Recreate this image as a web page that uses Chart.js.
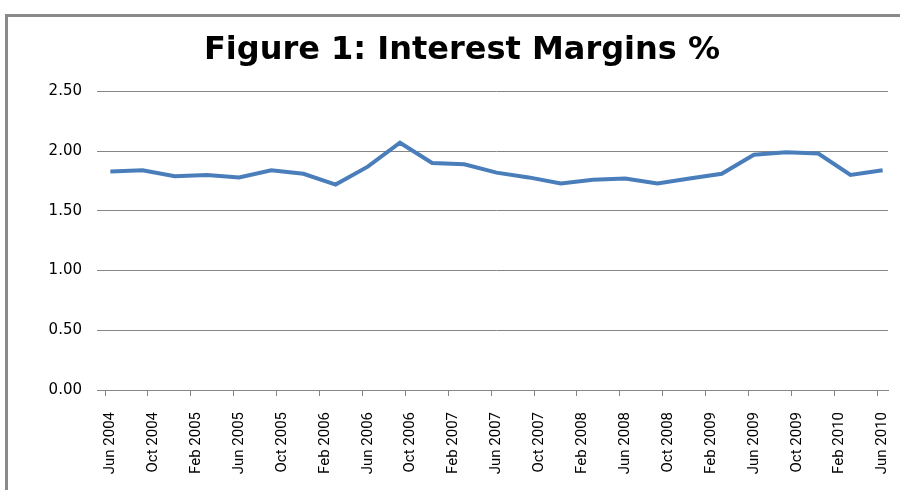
<!DOCTYPE html>
<html>
<head>
<meta charset="utf-8">
<script src="https://cdn.jsdelivr.net/npm/chart.js@4"></script>
<style>
    html, body { margin: 0; padding: 0; background: #fff; }
    #wrap { position: relative; width: 900px; height: 490px; }
    #frame {
        position: absolute; left: 5px; top: 14px; right: -5px; bottom: -5px;
        border-left: 3px solid #8a8a8a; border-top: 3px solid #8a8a8a;
    }
    canvas { position: absolute; left: 0; top: 0; }
</style>
</head>
<body>
<div id="wrap">
    <div id="frame"></div>
    <canvas id="marginChart" width="900" height="490"></canvas>
</div>
<script>
// quarterly observations, plotted on a monthly category axis
const quarters = [
    "Jun 2004", "Sep 2004", "Dec 2004", "Mar 2005", "Jun 2005", "Sep 2005", "Dec 2005",
    "Mar 2006", "Jun 2006", "Sep 2006", "Dec 2006", "Mar 2007", "Jun 2007", "Sep 2007",
    "Dec 2007", "Mar 2008", "Jun 2008", "Sep 2008", "Dec 2008", "Mar 2009", "Jun 2009",
    "Sep 2009", "Dec 2009", "Mar 2010", "Jun 2010",
];
const margins = [
    1.83, 1.84, 1.79, 1.80, 1.78, 1.84, 1.81,
    1.72, 1.87, 2.07, 1.90, 1.89, 1.82, 1.78,
    1.73, 1.76, 1.77, 1.73, 1.77, 1.81, 1.97,
    1.99, 1.98, 1.80, 1.84,
];
const yTicks = [0, 0.5, 1, 1.5, 2, 2.5];

const monthNames = ["Jan", "Feb", "Mar", "Apr", "May", "Jun", "Jul", "Aug", "Sep", "Oct", "Nov", "Dec"];
const months = [];
for (let y = 2004; y <= 2010; y++) {
    for (let m = 0; m < 12; m++) {
        if (y === 2004 && m < 5) continue;
        if (y === 2010 && m > 5) continue;
        months.push(monthNames[m] + " " + y);
    }
}

const grey = "#868686";

new Chart(document.getElementById("marginChart"), {
    type: "line",
    data: {
        labels: months,
        datasets: [
            {
                data: quarters.map((q, i) => ({ x: q, y: margins[i] })),
                borderColor: "#4a7ebb",
                borderWidth: 4,
                pointRadius: 0,
                tension: 0,
                fill: false,
            },
        ],
    },
    options: {
        responsive: false,
        animation: false,
        layout: { padding: { left: 36, right: 12, top: 0, bottom: 0 } },
        plugins: {
            legend: { display: false },
            tooltip: { enabled: false },
            title: {
                display: true,
                text: "Figure 1: Interest Margins %",
                color: "#000",
                font: { family: "DejaVu Sans", size: 32, weight: "bold" },
                padding: { top: 31, bottom: 22 },
            },
        },
        scales: {
            x: {
                type: "category",
                offset: true,
                grid: {
                    offset: true,
                    drawOnChartArea: false,
                    tickLength: 6,
                    tickColor: (ctx) => (ctx.index % 4 === 0 ? grey : "rgba(0,0,0,0)"),
                },
                border: { display: true, color: grey },
                ticks: {
                    autoSkip: false,
                    minRotation: 90,
                    maxRotation: 90,
                    padding: 16,
                    color: "#000",
                    font: { family: "Roboto", size: 15 },
                    callback: function (v, i) { return i % 4 === 0 ? this.getLabelForValue(v) : ""; },
                },
                afterFit: (s) => { s.height = 100; s.paddingRight = 0; s.paddingLeft = 0; },
            },
            y: {
                min: 0,
                max: 2.5,
                afterBuildTicks: (s) => { s.ticks = yTicks.map((v) => ({ value: v })); },
                grid: { color: grey, tickLength: 8, tickColor: grey },
                border: { display: false },
                ticks: {
                    padding: 15,
                    color: "#000",
                    font: { family: "DejaVu Sans", size: 15 },
                    callback: (v) => v.toFixed(2),
                },
                afterFit: (s) => { s.width = 69; },
            },
        },
    },
});
</script>
</body>
</html>
